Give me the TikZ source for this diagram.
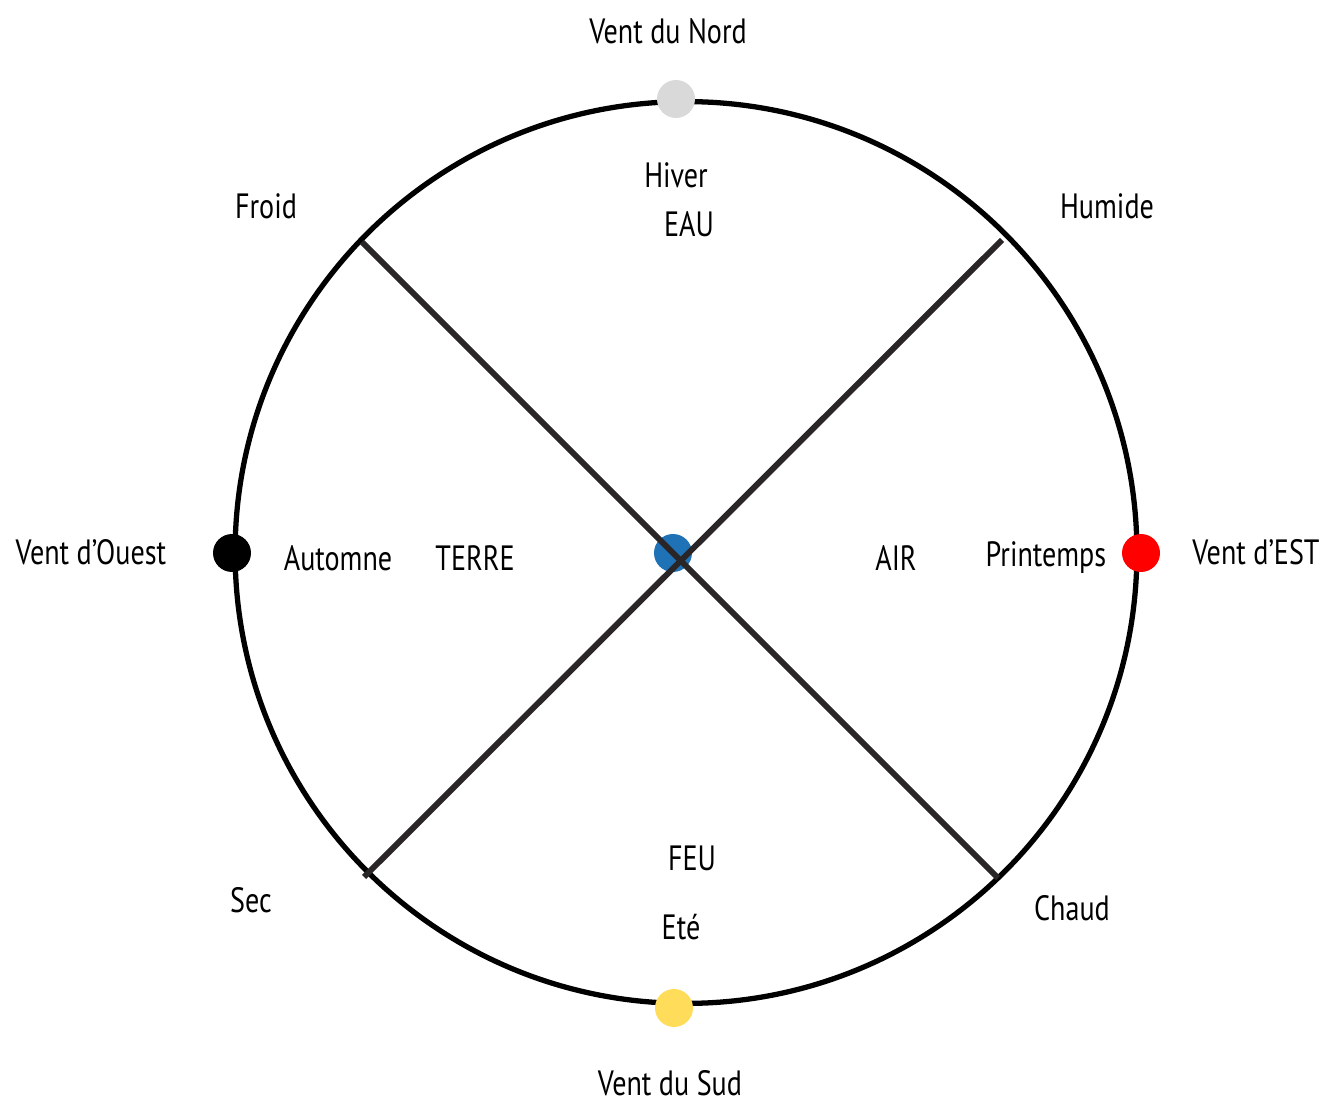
\documentclass[tikz,border=0pt]{standalone}
\usepackage{fontspec}
\setmainfont[FakeStretch=0.8]{PT Sans}
\usepackage{tikz}
\usetikzlibrary{positioning,shapes.geometric}

\definecolor{nordgray}{HTML}{D9D9D9}
\definecolor{sudyellow}{HTML}{FFDD5A}
\definecolor{estred}{HTML}{FF0000}
\definecolor{centerblue}{HTML}{1F72B6}
\definecolor{barcol}{HTML}{2A2627}

\begin{document}
\begin{tikzpicture}[
  x=0.02cm, y=-0.02cm,
  wheel/.style={draw=black, circle, line width=3pt, minimum size=18.04cm, inner sep=0pt},
  wind/.style={circle, inner sep=0pt, minimum size=0.76cm},
  bar/.style={draw=barcol, line width=3.4pt},
  lbl/.style={font=\fontsize{20}{24}\selectfont, inner sep=0pt}
]
\useasboundingbox (0,0) rectangle (1323,1104);

% outer circle
\node[wheel] (rim) at (686,552.5) {};

% center dot, under the bars
\node[wind, fill=centerblue] (mid) at (673,553) {};

% the two bars
\coordinate (froid) at (362,242);
\coordinate (chaud) at (998,878);
\coordinate (humide) at (1002,240);
\coordinate (sec) at (364,877);
\draw[bar] (froid) -- (chaud);
\draw[bar] (humide) -- (sec);

% the four winds
\node[wind, fill=nordgray]  (nord)  at (676,99)   {};
\node[wind, fill=sudyellow] (sud)   at (674,1008) {};
\node[wind, fill=black]     (ouest) at (232,553)  {};
\node[wind, fill=estred]    (est)   at (1141,553) {};

% labels
\node[lbl] (tnord)  at (668,31)   {Vent du Nord};
\node[lbl] (tsud)   at (670,1083) {Vent du Sud};
\node[lbl] (touest) at (91,552)   {Vent d’Ouest};
\node[lbl] (test)   at (1256,552) {Vent d’EST};

\node[lbl] (hiver)  at (676,175)  {Hiver};
\node[lbl] (eau)    at (689,224)  {EAU};
\node[lbl] (feu)    at (692,858)  {FEU};
\node[lbl] (ete)    at (681,927)  {Eté};
\node[lbl] (autom)  at (338,558)  {Automne};
\node[lbl] (terre)  at (475,558)  {TERRE};
\node[lbl] (air)    at (896,558)  {AIR};
\node[lbl] (print)  at (1046,558) {Printemps};

\node[lbl] (tfroid)  at (266,206)  {Froid};
\node[lbl] (thumide) at (1107,206) {Humide};
\node[lbl] (tsec)    at (251,900)  {Sec};
\node[lbl] (tchaud)  at (1072,908) {Chaud};
\end{tikzpicture}
\end{document}
